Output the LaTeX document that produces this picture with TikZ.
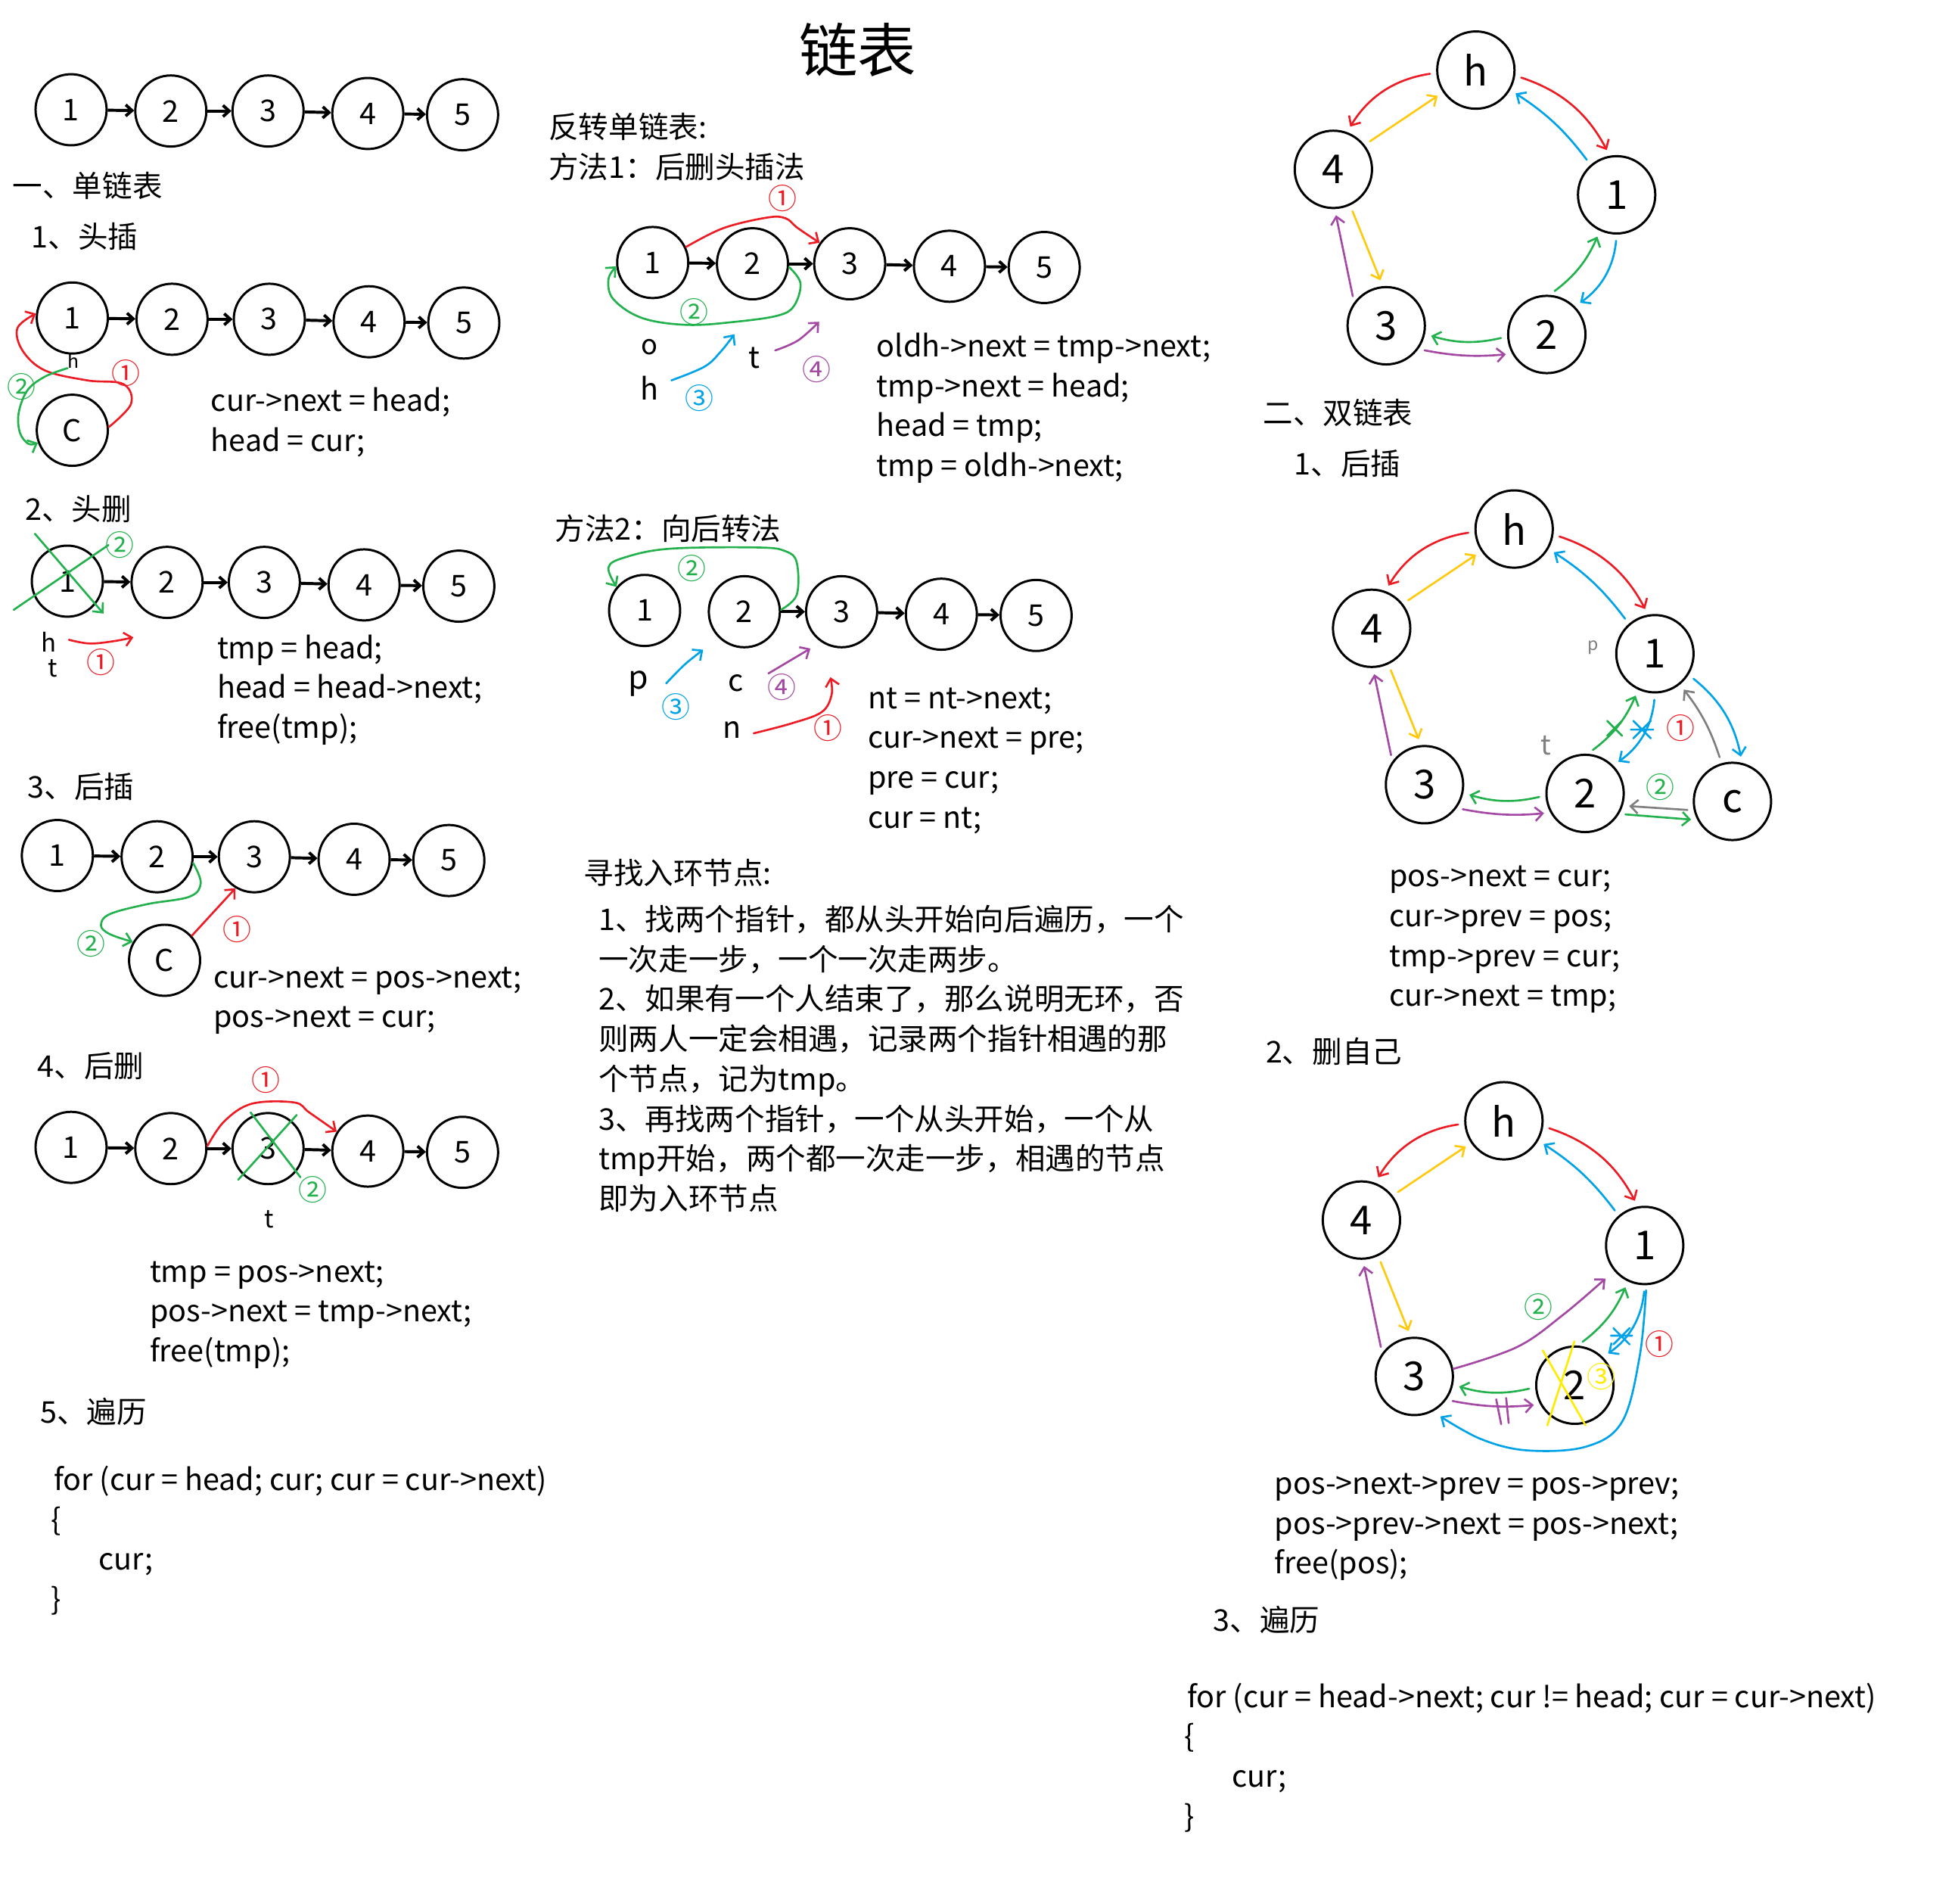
\documentclass[tikz,border=0pt]{standalone}
\usepackage{fontspec}
\setmainfont{Noto Sans CJK SC}
\usetikzlibrary{arrows.meta,calc}
\definecolor{cred}{RGB}{237,28,36}
\definecolor{cgreen}{RGB}{34,177,76}
\definecolor{cblue}{RGB}{0,162,232}
\definecolor{cyellow}{RGB}{255,201,14}
\definecolor{cbyellow}{RGB}{255,235,0}
\definecolor{cpurple}{RGB}{163,73,164}
\definecolor{cgray}{RGB}{127,127,127}
\tikzset{
  txt/.style={anchor=base west,inner sep=0pt,font=\fontsize{24}{28}\selectfont},
  ln/.style={circle,draw,line width=1.8pt,minimum size=57pt,inner sep=0pt,font=\fontsize{24}{24}\selectfont},
  rn/.style={circle,draw,line width=1.8pt,minimum size=62pt,inner sep=0pt,font=\fontsize{32}{32}\selectfont},
  lk/.style={line width=2.4pt,-{Straight Barb[length=5pt,width=9pt]}},
  ann/.style={line width=1.6pt,line cap=round,line join=round,-{Straight Barb[length=6pt,width=11pt]}},
  rar/.style={ann,shorten <=5pt,shorten >=5pt},
  gl/.style={line width=1.6pt,line cap=round},
  lab/.style={inner sep=0pt,font=\fontsize{20}{20}\selectfont},
  cn/.style={inner sep=0pt,font=\fontsize{23}{23}\selectfont},
}
\newcommand\mklist[3]{%
  \begin{scope}[shift={(#2,#3)}]
    \node[ln] (#1-1) at (0,0) {1};
    \node[ln] (#1-2) at (80,1) {2};
    \node[ln] (#1-3) at (158,1) {3};
    \node[ln] (#1-4) at (238,3) {4};
    \node[ln] (#1-5) at (314,4) {5};
  \end{scope}}
\newcommand\mkring[3]{%
  \begin{scope}[shift={(#2,#3)}]
    \node[rn] (#1-h) at (1183.7,56.2) {h};
    \node[rn] (#1-4) at (1069.4,135.8) {4};
    \node[rn] (#1-1) at (1296.6,156.2) {1};
    \node[rn] (#1-3) at (1111.8,261.2) {3};
    \node[rn] (#1-2) at (1240.6,268.2) {2};
  \end{scope}
  \draw[rar,cred] (#1-h.184) to[bend right=25] (#1-4.70);
  \draw[rar,cyellow] (#1-4.38) -- (#1-h.214);
  \draw[rar,cred] (#1-h.352) to[bend left=22] (#1-1.100);
  \draw[rar,cblue] (#1-1.131) to[bend right=10] (#1-h.330);
  \draw[rar,cblue] (#1-1.270) to[bend left=25] (#1-2.45);
  \draw[rar,cgreen] (#1-2.86) to[bend right=15] (#1-1.245);
  \draw[rar,cgreen] (#1-2.183) to[bend left=15] (#1-3.348);
  \draw[rar,cpurple] (#1-3.324) to[bend right=8] (#1-2.209);
  \draw[rar,cpurple] (#1-3.144) -- (#1-4.272);
  \draw[rar,cyellow] (#1-4.295) -- (#1-3.95);}
\begin{document}
\begin{tikzpicture}[x=1pt,y=-1pt]
\useasboundingbox (0,0) rectangle (1568,1526.7);
\fill[white] (0,0) rectangle (1568,1526.7);

% ---------- lists ----------
\mklist{ra}{57}{88}
\mklist{rb}{58}{255}
\mklist{rc}{54}{466}
\mklist{rd}{46}{686}
\mklist{re}{57}{920}
\mklist{ma}{523.5}{210.5}
\mklist{mb}{517}{489.5}
\foreach \p in {ra,rb,rc,rd,re,ma}{
  \draw[lk] (\p-1) -- (\p-2);
}
\foreach \p in {ra,rb,rc,rd,re,ma,mb}{
  \draw[lk] (\p-2) -- (\p-3);
  \draw[lk] (\p-3) -- (\p-4);
  \draw[lk] (\p-4) -- (\p-5);
}
\node[ln] (rb-c) at (58,345) {C};
\node[ln] (rd-c) at (132,770) {C};

% ---------- texts left ----------
\node[txt] (tA) at (10,158) {一、单链表};
\node[txt] (tB) at (25,199) {1、头插};
\node[txt] (tB1) at (169,330) {cur->next = head;};
\node[txt] (tB2) at (169,362) {head = cur;};
\node[txt] (tC) at (20,417) {2、头删};
\node[txt] (tC1) at (174,528) {tmp = head;};
\node[txt] (tC2) at (174,560) {head = head->next;};
\node[txt] (tC3) at (174,592) {free(tmp);};
\node[txt] (tD) at (22,640) {3、后插};
\node[txt] (tD1) at (171,792) {cur->next = pos->next;};
\node[txt] (tD2) at (171,824) {pos->next = cur;};
\node[txt] (tE) at (30,864) {4、后删};
\node[txt] (tE1) at (120,1028) {tmp = pos->next;};
\node[txt] (tE2) at (120,1060) {pos->next = tmp->next;};
\node[txt] (tE3) at (120,1092) {free(tmp);};
\node[txt] (tF) at (32,1141) {5、遍历};
\node[txt] (tF1) at (43,1195) {for (cur = head; cur; cur = cur->next)};
\node[txt] (tF2) at (41,1227) {\{};
\node[txt] (tF3) at (79,1259) {cur;};
\node[txt] (tF4) at (41,1291) {\}};

% ---------- texts middle ----------
\node[inner sep=0pt,font=\fontsize{47}{47}\selectfont] (title) at (688,40) {链表};
\node[txt] (tG) at (440,111) {反转单链表:};
\node[txt] (tG0) at (440,143) {方法1：后删头插法};
\node[txt] (tG1) at (703,286) {oldh->next = tmp->next;};
\node[txt] (tG2) at (703,318) {tmp->next = head;};
\node[txt] (tG3) at (703,350) {head = tmp;};
\node[txt] (tG4) at (703,382) {tmp = oldh->next;};
\node[txt] (tH) at (445,433) {方法2：向后转法};
\node[txt] (tH1) at (696,568) {nt = nt->next;};
\node[txt] (tH2) at (696,600) {cur->next = pre;};
\node[txt] (tH3) at (696,632) {pre = cur;};
\node[txt] (tH4) at (696,664) {cur = nt;};
\node[txt] (tI) at (468,709) {寻找入环节点:};
\node[txt] (tI1) at (480,746) {1、找两个指针，都从头开始向后遍历，一个};
\node[txt] (tI2) at (480,778) {一次走一步，一个一次走两步。};
\node[txt] (tI3) at (480,810) {2、如果有一个人结束了，那么说明无环，否};
\node[txt] (tI4) at (480,842) {则两人一定会相遇，记录两个指针相遇的那};
\node[txt] (tI5) at (480,874) {个节点，记为tmp。};
\node[txt] (tI6) at (480,906) {3、再找两个指针，一个从头开始，一个从};
\node[txt] (tI7) at (480,938) {tmp开始，两个都一次走一步，相遇的节点};
\node[txt] (tI8) at (480,970) {即为入环节点};

% ---------- texts right ----------
\node[txt] (tJ) at (1013,340) {二、双链表};
\node[txt] (tK) at (1038,381) {1、后插};
\node[txt] (tK1) at (1114,711) {pos->next = cur;};
\node[txt] (tK2) at (1114,743) {cur->prev = pos;};
\node[txt] (tK3) at (1114,775) {tmp->prev = cur;};
\node[txt] (tK4) at (1114,807) {cur->next = tmp;};
\node[txt] (tL) at (1015,852) {2、删自己};
\node[txt] (tL1) at (1022,1198) {pos->next->prev = pos->prev;};
\node[txt] (tL2) at (1022,1230) {pos->prev->next = pos->next;};
\node[txt] (tL3) at (1022,1262) {free(pos);};
\node[txt] (tM) at (973,1308) {3、遍历};
\node[txt] (tM1) at (952,1369) {for (cur = head->next; cur != head; cur = cur->next)};
\node[txt] (tM2) at (950,1401) {\{};
\node[txt] (tM3) at (988,1433) {cur;};
\node[txt] (tM4) at (950,1465) {\}};

% ---------- 头插 annotations ----------
\node[lab,font=\fontsize{15}{15}\selectfont] (rb-h) at (59,289) {h};
\draw[ann,cred] plot[smooth,tension=0.6] coordinates {(rb-c.5) (105,324) (99,308) (70,305) (36,297) (18,281) (14,263) (rb-1.173)};
\node[cn,cred] (rb-n1) at (101,299) {①};
\draw[ann,cgreen] plot[smooth,tension=0.6] coordinates {(rb-h.south west) (36,302) (22,313) (15,331) (16,347) (23,356) (rb-c.200)};
\node[cn,cgreen] (rb-n2) at (17,310) {②};

% ---------- 头删 annotations ----------
\draw[ann,cgreen] (28,428) -- (83,492);
\draw[gl,cgreen] (11,489) -- (87,437);
\node[cn,cgreen] (rc-n2) at (96,437) {②};
\node[lab] (rc-h) at (39,515) {h};
\node[lab] (rc-t) at (42,536) {t};
\coordinate (rc-e) at (107,511);
\draw[ann,cred] plot[smooth,tension=0.6] coordinates {($(rc-h.east)+(10,-2)$) (72,516) (92,514) (rc-e)};
\node[cn,cred] (rc-n1) at (81,531) {①};

% ---------- 后插 annotations ----------
\draw[ann,cgreen] plot[smooth,tension=0.6] coordinates {(rd-2.350) (161,708) (152,719) (118,725) (88,733) (81,742) (88,749) (rd-c.150)};
\node[cn,cgreen] (rd-n2) at (73,757) {②};
\draw[ann,cred] (rd-c.42) -- (rd-3.239);
\node[cn,cred] (rd-n1) at (190,745) {①};

% ---------- 后删 annotations ----------
\draw[ann,cred] plot[smooth,tension=0.6] coordinates {(re-2.4) (180,899) (202,885) (236,884) (248,892) (re-4.148)};
\node[cn,cred] (re-n1) at (213,866) {①};
\draw[gl,cgreen] (201,892) -- (241,944);
\draw[gl,cgreen] (191,946) -- (238,894);
\node[cn,cgreen] (re-n2) at (251,954) {②};
\node[lab] (re-t) at (216,978) {t};

% ---------- 方法1 annotations ----------
\draw[ann,cred] plot[smooth,tension=0.6] coordinates {(ma-1.25) (580,183) (615,174.5) (630,175) (640,183) (ma-3.145)};
\node[cn,cred] (ma-n1) at (628,159) {①};
\draw[ann,cgreen] plot[smooth,tension=0.6] coordinates {(ma-2.355) (642,227) (637,245) (624,253) (590,258) (551,260.5) (515,255) (492,240) (488,224) (ma-1.186)};
\node[cn,cgreen] (ma-n2) at (556.5,250) {②};
\node[lab,font=\fontsize{22}{22}\selectfont] (ma-o) at (521,278) {o};
\node[lab,font=\fontsize{24}{24}\selectfont] (ma-h) at (521,311) {h};
\node[lab,font=\fontsize{24}{24}\selectfont] (ma-t) at (605,287) {t};
\coordinate (ma-e3) at (589,268);
\draw[ann,cblue] plot[smooth,tension=0.6] coordinates {($(ma-h.east)+(10,-6)$) (565,294) (578,282) (ma-e3)};
\node[cn,cblue] (ma-n3) at (561,319) {③};
\coordinate (ma-e4) at (657,258);
\draw[ann,cpurple] plot[smooth,tension=0.6] coordinates {($(ma-t.east)+(12,-6)$) (640,273) (ma-e4)};
\node[cn,cpurple] (ma-n4) at (655,296) {④};

% ---------- 方法2 annotations ----------
\draw[ann,cgreen] plot[smooth,tension=0.6] coordinates {(mb-2.3) (639,477) (639,451) (630,442) (608,439) (537,440) (501,447) (488,455) (mb-1.140)};
\node[cn,cgreen] (mb-n2) at (555,456) {②};
\node[lab,font=\fontsize{26}{26}\selectfont] (mb-p) at (512,548) {p};
\node[lab,font=\fontsize{24}{24}\selectfont] (mb-c) at (590,548) {c};
\node[lab,font=\fontsize{24}{24}\selectfont] (mb-n) at (587,585) {n};
\coordinate (mb-e3) at (564,521);
\draw[ann,cblue] plot[smooth,tension=0.6] coordinates {($(mb-p.east)+(14,0)$) (549,533) (mb-e3)};
\node[cn,cblue] (mb-n3) at (542,567) {③};
\coordinate (mb-e4) at (650,520);
\draw[ann,cpurple] ($(mb-c.east)+(20,-8)$) -- (mb-e4);
\node[cn,cpurple] (mb-n4) at (627,551) {④};
\coordinate (mb-e1) at (666,543);
\draw[ann,cred] plot[smooth,tension=0.6] coordinates {($(mb-n.east)+(10,3)$) (635,580) (659,571) (667,557) (mb-e1)};
\node[cn,cred] (mb-n1) at (664,584) {①};

% ---------- rings ----------
\mkring{Ra}{0}{0}
\mkring{Rb}{30.7}{368}
\mkring{Rc}{22.5}{842.5}

% ring 2 extras
\node[rn] (Rb-c) at (1389.5,642.6) {c};
\node[lab,cgray,font=\fontsize{14}{14}\selectfont] (Rb-p) at (1278,519) {p};
\node[lab,cgray,font=\fontsize{22}{22}\selectfont] (Rb-t) at (1240,598) {t};
\draw[rar,cblue] (Rb-1.328) to[bend left=20] (Rb-c.76);
\draw[rar,cgray] (Rb-c.106) to[bend right=10] (Rb-1.309);
\draw[rar,cgray] (Rb-c.193) -- (Rb-2.342);
\draw[rar,cgreen] (Rb-2.329) -- (Rb-c.208);
\node[cn,cgreen] (Rb-n2) at (1331.5,631) {②};
\node[cn,cred] (Rb-n1) at (1348,584) {①};
\draw[gl,cblue] (1310,578) -- (1324,592) (1310,592) -- (1324,578) (1308,585) -- (1326,585);
\draw[gl,cgreen] (1289,578) -- (1301,590) (1289,590) -- (1301,578);

% ring 3 extras
\draw[gl,cbyellow] (1237.3,1082.8) -- (1271.7,1143);
\draw[gl,cbyellow] (1241,1143) -- (1262.7,1075.6);
\node[cn,cbyellow] (Rc-n3) at (1284,1104) {③};
\draw[ann,cpurple] plot[smooth,tension=0.6] coordinates {(Rc-3.11) (1217,1080) (1254,1054) ($(Rc-1.220)+(-7,6)$)};
\node[cn,cgreen] (Rc-n2) at (1234,1048) {②};
\draw[ann,cblue] plot[smooth,tension=0.6] coordinates {($(Rc-1.272)+(0,4)$) (1315,1088) (1301,1140) (1272,1160) (1225,1163) (1188,1154) ($(Rc-3.302)+(4,5)$)};
\node[cn,cred] (Rc-n1) at (1331,1078) {①};
\draw[gl,cblue] (1294,1065) -- (1307,1078) (1294,1078) -- (1307,1065) (1292,1071) -- (1309,1071);
\draw[gl,cpurple] (1200,1122) -- (1204,1142) (1208,1121) -- (1210,1141);
\end{tikzpicture}
\end{document}
